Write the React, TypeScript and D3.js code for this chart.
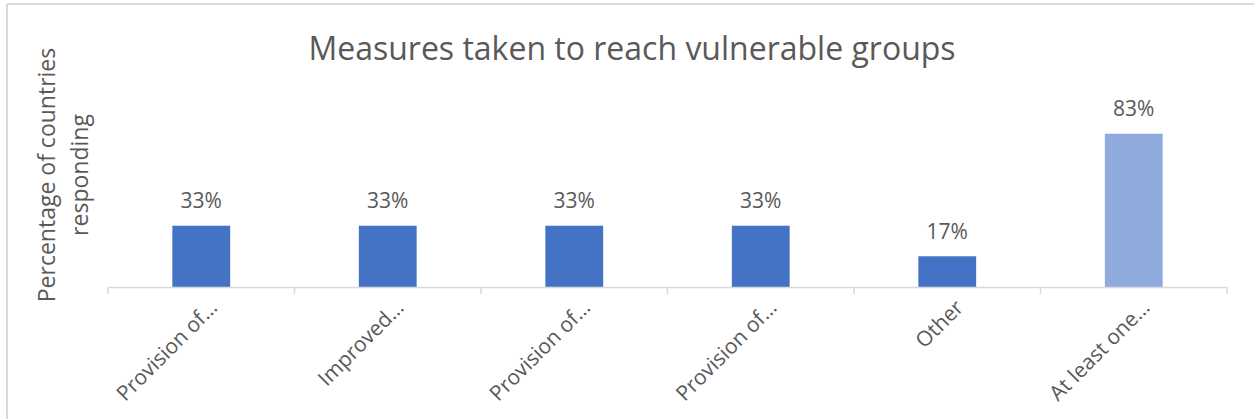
import React from "react";
import * as d3 from "d3";

const categories = [
  "Provision of…",
  "Improved…",
  "Provision of…",
  "Provision of…",
  "Other",
  "At least one…",
];
const values = [0.333, 0.333, 0.333, 0.333, 0.167, 0.833];
const labels = ["33%", "33%", "33%", "33%", "17%", "83%"];
const highlight = [false, false, false, false, false, true];

const W = 1254;
const H = 419;
const FONT = "'Open Sans', 'Segoe UI', sans-serif";
const TEXT = "#595959";

export default function App() {
  const band = d3
    .scaleBand<number>()
    .domain(d3.range(categories.length))
    .range([108, 1227]);
  const x = d3
    .scaleBand<number>()
    .domain(d3.range(categories.length))
    .range([108, 1227])
    .paddingInner(0.69)
    .paddingOuter(0.345);
  const y = d3.scaleLinear().domain([0, 1]).range([287, 103]);

  return (
    <svg
      width={W}
      height={H}
      style={{ position: "absolute", left: 0, top: 0, background: "#fff" }}
      fontFamily={FONT}
    >
      <rect x={0} y={0} width={W} height={H} fill="#fff" />
      <line x1={7} x2={W} y1={4} y2={4} stroke="#D9D9D9" strokeWidth={2} />
      <line x1={7} x2={7} y1={4} y2={H} stroke="#D9D9D9" strokeWidth={2} />

      <text x={632} y={60} textAnchor="middle" fontSize={32} fill={TEXT}>
        Measures taken to reach vulnerable groups
      </text>

      <g transform="translate(0,175) rotate(-90)" fill={TEXT} fontSize={23}>
        <text x={0} y={55} textAnchor="middle">
          Percentage of countries
        </text>
        <text x={0} y={88} textAnchor="middle">
          responding
        </text>
      </g>

      {values.map((v, i) => (
        <rect
          key={"b" + i}
          x={x(i)!}
          y={y(v)}
          width={x.bandwidth()}
          height={y(0) - y(v)}
          fill={highlight[i] ? "#8FAADC" : "#4472C4"}
        />
      ))}

      {values.map((v, i) => (
        <text
          key={"l" + i}
          x={x(i)! + x.bandwidth() / 2}
          y={y(v) - 17.5}
          textAnchor="middle"
          fontSize={21}
          fill={TEXT}
        >
          {labels[i]}
        </text>
      ))}

      <line x1={108} x2={1227} y1={287.5} y2={287.5} stroke="#D9D9D9" strokeWidth={1.5} />
      {d3.range(categories.length + 1).map((i) => {
        const tx = 108 + i * band.bandwidth();
        return (
          <line
            key={"t" + i}
            x1={tx}
            x2={tx}
            y1={287}
            y2={294}
            stroke="#D9D9D9"
            strokeWidth={1.5}
          />
        );
      })}

      {categories.map((c, i) => {
        const cx = band(i)! + band.bandwidth() / 2 + 7;
        return (
          <text
            key={"c" + i}
            transform={`translate(${cx},${298.5}) rotate(-45)`}
            textAnchor="end"
            dy="0.7em"
            fontSize={21}
            fill={TEXT}
          >
            {c}
          </text>
        );
      })}
    </svg>
  );
}
